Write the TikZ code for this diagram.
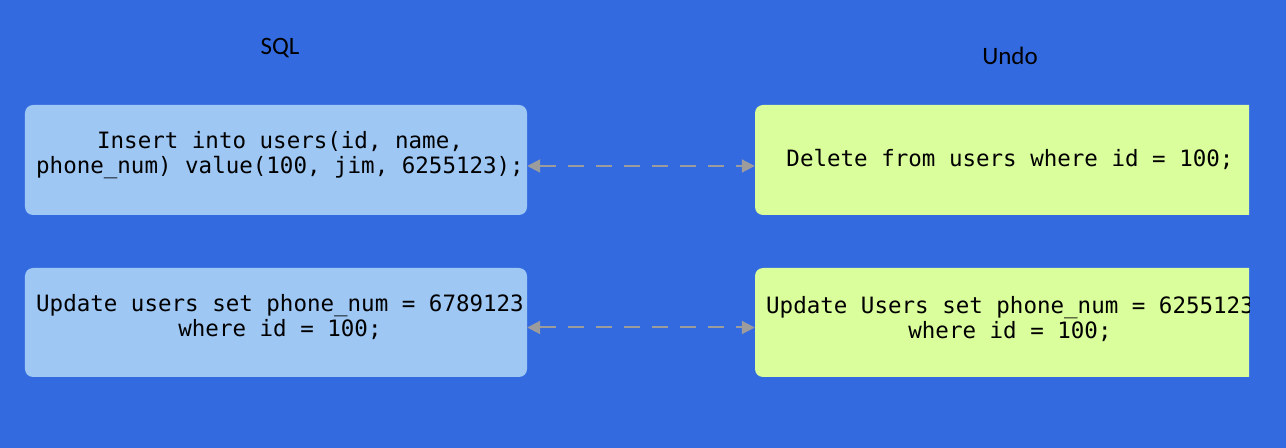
\documentclass[tikz,border=0pt]{standalone}
\usepackage{fontspec}
\setmainfont{Carlito}
\setmonofont{DejaVu Sans Mono}
\usetikzlibrary{arrows.meta}
\definecolor{bgblue}{HTML}{336AE0}
\definecolor{sqlfill}{HTML}{9EC7F4}
\definecolor{undofill}{HTML}{D9FE9B}
\definecolor{linkgray}{HTML}{9C9C9C}
\tikzset{
	stmtbox/.style={rounded corners=8bp, inner sep=0pt, minimum height=110bp},
	stmt/.style={font=\ttfamily\fontsize{22.5bp}{25bp}\selectfont, align=center, inner sep=0pt},
	coltitle/.style={font=\fontsize{25bp}{30bp}\selectfont, inner sep=0pt},
	link/.style={linkgray, line width=2bp, dash pattern=on 16bp off 12bp,
		{Triangle[length=13bp,width=13bp]}-{Triangle[length=13bp,width=13bp]}}
}
\begin{document}
\begin{tikzpicture}[x=1bp,y=-1bp]
				\useasboundingbox (0,0) rectangle (1286,448);
				\fill[bgblue] (0,0) rectangle (1286,448);

				% column titles
				\node[coltitle] (sqltitle) at (280,48) {SQL};
				\node[coltitle] (undotitle) at (1010,56) {Undo};

				% statements
				\node[stmtbox, fill=sqlfill, minimum width=502bp] (sqlA) at (276,160) {};
				\node[stmtbox, fill=sqlfill, minimum width=502bp, minimum height=109bp] (sqlB) at (276,322.5) {};
				\node[stmt] (sqlAtext) at (280,155) {Insert into users(id, name,\\phone\_num) value(100, jim, 6255123);};
				\node[stmt] (sqlBtext) at (280,317.5) {Update users set phone\_num = 6789123\\where id = 100;};

				% undo log, cut at the right edge
				\begin{scope}
					\clip (0,0) rectangle (1249,448);
					\node[stmtbox, fill=undofill, minimum width=510bp] (undoA) at (1010,160) {};
					\node[stmtbox, fill=undofill, minimum width=510bp, minimum height=109bp] (undoB) at (1010,322.5) {};
					\node[stmt] (undoAtext) at (1010,159) {Delete from users where id = 100;};
					\node[stmt] (undoBtext) at (1010,319.5) {Update Users set phone\_num = 6255123\\where id = 100;};
				\end{scope}

				\draw[link] ([yshift=-6bp]sqlA.east) -- ([yshift=-6bp]undoA.west);
				\draw[link] ([yshift=-5bp]sqlB.east) -- ([yshift=-5bp]undoB.west);
			\end{tikzpicture}
\end{document}
